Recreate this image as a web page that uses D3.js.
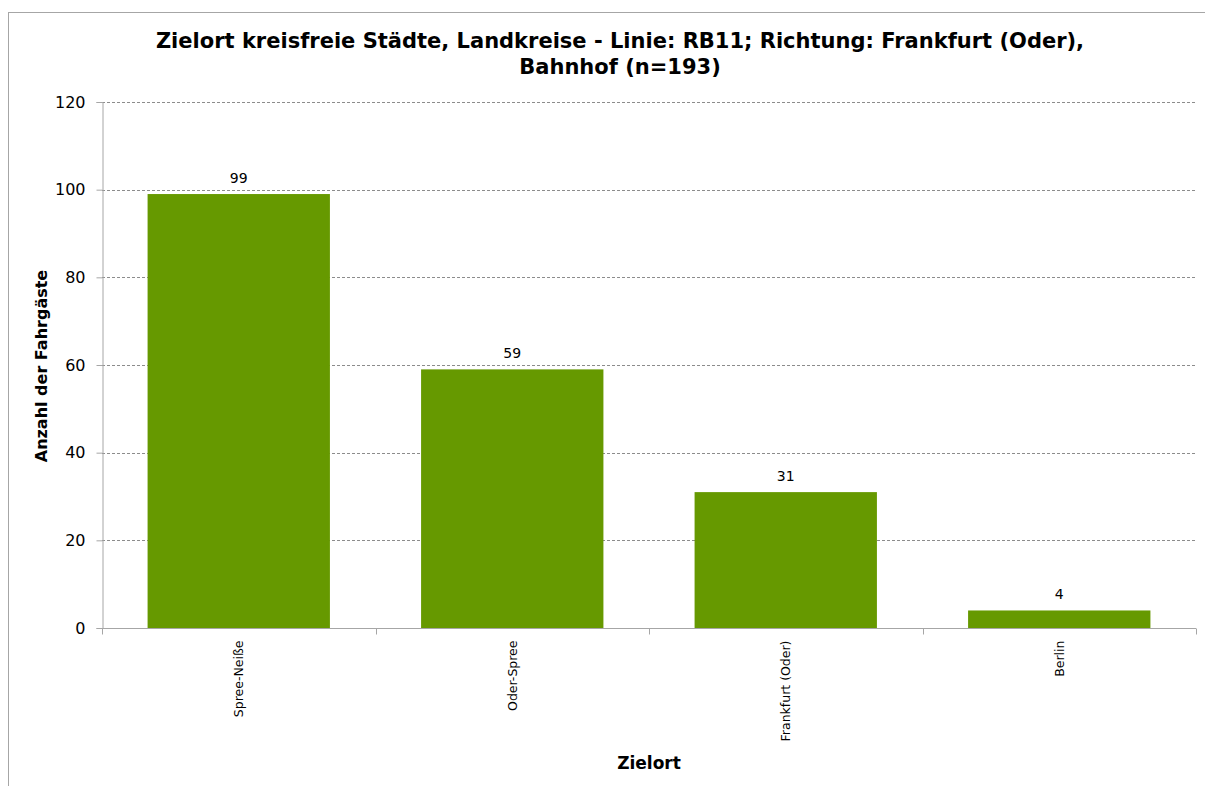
<!DOCTYPE html>
<html><head><meta charset="utf-8">
<script src="https://cdn.jsdelivr.net/npm/d3@7"></script>
<style>body{margin:0;background:#fff}svg{display:block}text{font-family:"DejaVu Sans",Verdana,sans-serif}</style>
</head><body>
<script>
const categories = ["Spree-Neiße", "Oder-Spree", "Frankfurt (Oder)", "Berlin"];
const values = [99, 59, 31, 4];
const yTicks = [0, 20, 40, 60, 80, 100, 120];
const titleLines = ["Zielort kreisfreie Städte, Landkreise - Linie: RB11; Richtung: Frankfurt (Oder),", "Bahnhof (n=193)"];
const yTitle = "Anzahl der Fahrgäste";
const xTitle = "Zielort";

const W = 1205, H = 786;
const svg = d3.select("body").append("svg").attr("width", W).attr("height", H);
svg.append("rect").attr("x", 8.5).attr("y", 12.5).attr("width", W + 10).attr("height", H + 10)
  .attr("fill", "#fff").attr("stroke", "#a6a6a6").attr("stroke-width", 1);

const L = 102, R = 1196, T = 102, B = 628;
const x = d3.scaleBand().domain(categories).range([L, R]);
const y = d3.scaleLinear().domain([0, 120]).range([B, T]);

// gridlines
svg.append("g").selectAll("line").data(yTicks.filter(d => d > 0)).join("line")
  .attr("x1", L).attr("x2", R).attr("y1", d => Math.round(y(d)) + 0.5).attr("y2", d => Math.round(y(d)) + 0.5)
  .attr("stroke", "#8c8c8c").attr("stroke-dasharray", "3,2").attr("stroke-width", 1);

// bars
const bw = x.bandwidth() / 1.5;
svg.append("g").selectAll("rect").data(values).join("rect")
  .attr("x", (d, i) => x(categories[i]) + x.bandwidth() / 2 - bw / 2)
  .attr("width", bw)
  .attr("y", d => y(d)).attr("height", d => B - y(d))
  .attr("fill", "#669900");

// value labels
svg.append("g").selectAll("text").data(values).join("text")
  .attr("x", (d, i) => x(categories[i]) + x.bandwidth() / 2)
  .attr("y", d => y(d) - 11)
  .attr("text-anchor", "middle").attr("font-size", 14).attr("fill", "#000")
  .text(d => d);

// y axis
const yAxis = svg.append("g").attr("transform", `translate(${L + 0.5},0)`)
  .call(d3.axisLeft(y).tickValues(yTicks).tickSize(6).tickPadding(11));
yAxis.select(".domain").attr("stroke", "#a6a6a6");
yAxis.selectAll(".tick line").attr("stroke", "#a6a6a6");
yAxis.selectAll(".tick text").attr("font-size", 16).attr("fill", "#000").attr("font-family", "DejaVu Sans");

// x axis
const xg = svg.append("g").attr("transform", `translate(0,${B + 0.5})`);
xg.append("line").attr("x1", L).attr("x2", R).attr("stroke", "#a6a6a6");
const bounds = categories.map(c => x(c)).concat([R]);
xg.selectAll(".tk").data(bounds).join("line").attr("class", "tk")
  .attr("x1", d => Math.round(d) + 0.5).attr("x2", d => Math.round(d) + 0.5).attr("y1", 0).attr("y2", 6)
  .attr("stroke", "#a6a6a6");
xg.selectAll(".lbl").data(categories).join("text").attr("class", "lbl")
  .attr("transform", d => `translate(${x(d) + x.bandwidth() / 2 + 4.5},${12}) rotate(-90)`)
  .attr("text-anchor", "end").attr("font-size", 12.5).attr("fill", "#000")
  .text(d => d);

// titles
svg.append("text").attr("x", 620).attr("font-size", 21).attr("font-weight", "bold").attr("text-anchor", "middle")
  .selectAll("tspan").data(titleLines).join("tspan").attr("x", 620).attr("y", (d, i) => 48 + i * 26).text(d => d);

svg.append("text").attr("transform", `translate(47,366) rotate(-90)`).attr("text-anchor", "middle")
  .attr("font-size", 16).attr("font-weight", "bold").text(yTitle);
svg.append("text").attr("x", 649).attr("y", 769).attr("text-anchor", "middle")
  .attr("font-size", 17).attr("font-weight", "bold").text(xTitle);
</script>
</body></html>
